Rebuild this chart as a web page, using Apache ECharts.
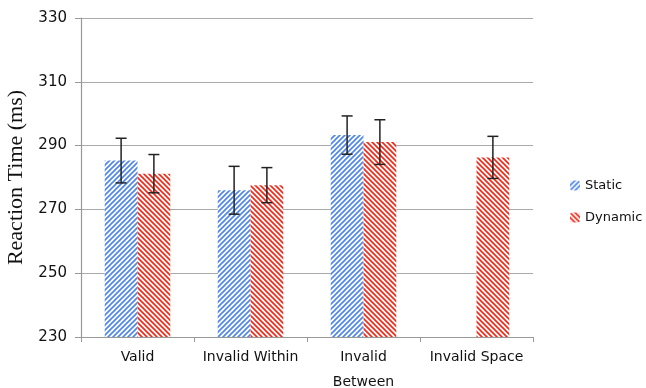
<!DOCTYPE html>
<html><head><meta charset="utf-8">
<script src="https://cdn.jsdelivr.net/npm/echarts@6/dist/echarts.min.js"></script>
<style>html,body{margin:0;padding:0;background:#fff}#c{width:646px;height:388px}</style>
</head><body><div id="c"></div>
<script>
const categories = ['Valid', 'Invalid Within', 'Invalid\nBetween', 'Invalid Space'];
const staticValues = [285.3, 276.0, 293.3, null];
const staticErr = [7.0, 7.5, 6.0, null];
const dynamicValues = [281.2, 277.6, 291.1, 286.3];
const dynamicErr = [6.0, 5.5, 7.0, 6.6];
const yTicks = [230, 250, 270, 290, 310, 330];

function stripe(color, dir) {
  const s = 5, c = document.createElement('canvas');
  c.width = s; c.height = s;
  const g = c.getContext('2d');
  g.fillStyle = '#fff'; g.fillRect(0, 0, s, s);
  g.strokeStyle = color; g.lineWidth = 1.7;
  for (let k = -1; k <= 1; k++) {
    g.beginPath();
    if (dir === '/') { g.moveTo(k * s - 1, s + 1); g.lineTo(k * s + s + 1, -1); }
    else { g.moveTo(k * s - 1, -1); g.lineTo(k * s + s + 1, s + 1); }
    g.stroke();
  }
  return { image: c, repeat: 'repeat' };
}
const blueFill = stripe('#4f86e8', '/');
const redFill = stripe('#f02a1a', '\\');
const BW = 0.29;

function errData(vals, errs) {
  return vals.map((v, i) => v == null ? [i, null, null] : [i, v - errs[i], v + errs[i]]);
}
function errSeries(vals, errs, side) {
  return {
    type: 'custom', z: 10, silent: true,
    data: errData(vals, errs),
    renderItem: function (params, api) {
      const lo = api.value(1), hi = api.value(2);
      if (lo == null || isNaN(lo)) return;
      const band = api.size([1, 0])[0];
      const off = side * band * BW / 2;
      const p1 = api.coord([api.value(0), lo]);
      const p2 = api.coord([api.value(0), hi]);
      const x = p1[0] + off, w = 5.5;
      const st = { stroke: '#222', lineWidth: 1.5 };
      return { type: 'group', children: [
        { type: 'line', shape: { x1: x, y1: p1[1], x2: x, y2: p2[1] }, style: st },
        { type: 'line', shape: { x1: x - w, y1: p1[1], x2: x + w, y2: p1[1] }, style: st },
        { type: 'line', shape: { x1: x - w, y1: p2[1], x2: x + w, y2: p2[1] }, style: st }
      ] };
    }
  };
}

const chart = echarts.init(document.getElementById('c'));
chart.setOption({
  animation: false,
  grid: { left: 81, right: 113, top: 18, bottom: 51, outerBoundsMode: 'none', containLabel: false },
  legend: {
    orient: 'vertical', left: 565, top: 174, itemGap: 19,
    itemWidth: 10, itemHeight: 10,
    data: ['Static', 'Dynamic'],
    textStyle: { fontFamily: 'DejaVu Sans', fontSize: 13, color: '#111' }
  },
  xAxis: {
    type: 'category', data: categories,
    axisLine: { lineStyle: { color: '#999', width: 1.2 } },
    axisTick: { show: true, length: 5, interval: 0, lineStyle: { color: '#999' } },
    axisLabel: { interval: 0, fontFamily: 'DejaVu Sans', fontSize: 14, color: '#111', margin: 8, lineHeight: 25 }
  },
  yAxis: {
    type: 'value', min: yTicks[0], max: yTicks[yTicks.length - 1], interval: 20,
    name: 'Reaction Time (ms)', nameLocation: 'middle', nameGap: 48,
    nameTextStyle: { fontFamily: 'Liberation Serif', fontSize: 22, color: '#111' },
    axisLine: { show: true, lineStyle: { color: '#999', width: 1.2 } },
    axisTick: { show: true, length: 6, lineStyle: { color: '#999' } },
    splitLine: { lineStyle: { color: '#aaa', width: 1.2 } },
    axisLabel: { fontFamily: 'DejaVu Sans', fontSize: 15, color: '#111', margin: 14 }
  },
  series: [
    { name: 'Static', type: 'bar', data: staticValues, barWidth: (BW * 100) + '%', barGap: '0%',
      itemStyle: { color: blueFill } },
    { name: 'Dynamic', type: 'bar', data: dynamicValues, barWidth: (BW * 100) + '%', barGap: '0%',
      itemStyle: { color: redFill } },
    errSeries(staticValues, staticErr, -1),
    errSeries(dynamicValues, dynamicErr, 1)
  ]
});
</script></body></html>
